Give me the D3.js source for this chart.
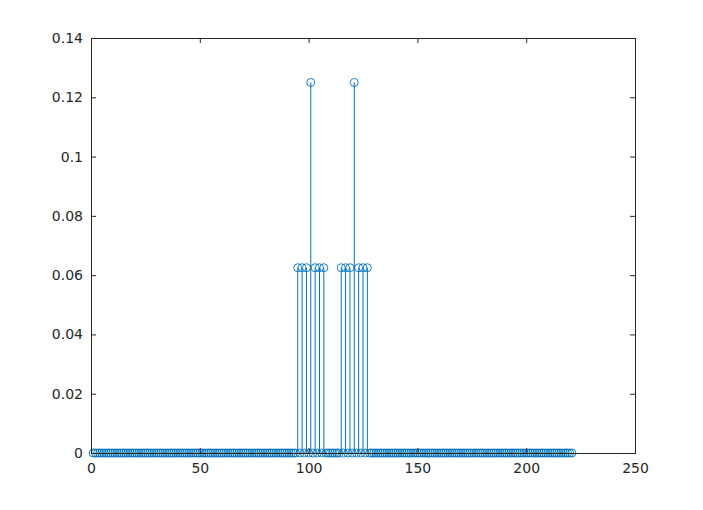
<!DOCTYPE html>
<html>
<head>
<meta charset="utf-8">
<script src="https://cdn.jsdelivr.net/npm/d3@7"></script>
<style>
  body { margin: 0; background: #fff; }
  svg text { font-family: "DejaVu Sans", sans-serif; font-size: 14px; fill: #262626; }
</style>
</head>
<body>
<div id="chart"></div>
<script>
// stem values for sample index 1..221
const values = [
  0,0,0,0,0,0,0,0,0,0,
  0,0,0,0,0,0,0,0,0,0,
  0,0,0,0,0,0,0,0,0,0,
  0,0,0,0,0,0,0,0,0,0,
  0,0,0,0,0,0,0,0,0,0,
  0,0,0,0,0,0,0,0,0,0,
  0,0,0,0,0,0,0,0,0,0,
  0,0,0,0,0,0,0,0,0,0,
  0,0,0,0,0,0,0,0,0,0,
  0,0,0,0,0.0625,0,0.0625,0,0.0625,0,
  0.125,0,0.0625,0,0.0625,0,0.0625,0,0,0,
  0,0,0,0,0.0625,0,0.0625,0,0.0625,0,
  0.125,0,0.0625,0,0.0625,0,0.0625,0,0,0,
  0,0,0,0,0,0,0,0,0,0,
  0,0,0,0,0,0,0,0,0,0,
  0,0,0,0,0,0,0,0,0,0,
  0,0,0,0,0,0,0,0,0,0,
  0,0,0,0,0,0,0,0,0,0,
  0,0,0,0,0,0,0,0,0,0,
  0,0,0,0,0,0,0,0,0,0,
  0,0,0,0,0,0,0,0,0,0,
  0,0,0,0,0,0,0,0,0,0,
  0
];
const xTicks = [0, 50, 100, 150, 200, 250];
const yTicks = [0, 0.02, 0.04, 0.06, 0.08, 0.1, 0.12, 0.14];

const data = values.map((v, i) => ({ x: i + 1, y: v }));

const W = 703, H = 510;
const margin = { top: 38, right: 68, bottom: 57, left: 91 };
const width = W - margin.left - margin.right;
const height = H - margin.top - margin.bottom;
const color = "#0072BD";

const svg = d3.select("#chart").append("svg")
  .attr("width", W)
  .attr("height", H);

const g = svg.append("g").attr("transform", `translate(${margin.left},${margin.top})`);

const x = d3.scaleLinear().domain([0, 250]).range([0, width]);
const y = d3.scaleLinear().domain([0, 0.14]).range([height, 0]);

// stems
g.selectAll("line.stem")
  .data(data)
  .enter()
  .append("line")
  .attr("class", "stem")
  .attr("x1", d => x(d.x))
  .attr("x2", d => x(d.x))
  .attr("y1", y(0))
  .attr("y2", d => y(d.y))
  .attr("stroke", color)
  .attr("stroke-width", 1);

// markers
g.selectAll("circle")
  .data(data)
  .enter()
  .append("circle")
  .attr("cx", d => x(d.x))
  .attr("cy", d => y(d.y))
  .attr("r", 4)
  .attr("fill", "none")
  .attr("stroke", color)
  .attr("stroke-width", 0.9);

// axes
const tickLen = 5;
g.append("g")
  .attr("transform", `translate(0,${height})`)
  .call(d3.axisBottom(x).tickValues(xTicks).tickSizeInner(-tickLen).tickSizeOuter(0).tickPadding(10).tickFormat(d3.format("d")));
g.append("g")
  .call(d3.axisTop(x).tickValues(xTicks).tickSizeInner(-tickLen).tickSizeOuter(0).tickFormat(""));
g.append("g")
  .call(d3.axisLeft(y).tickValues(yTicks).tickSizeInner(-tickLen).tickSizeOuter(0).tickPadding(8).tickFormat(d => d === 0 ? "0" : d3.format(".2~f")(d)));
g.append("g")
  .attr("transform", `translate(${width},0)`)
  .call(d3.axisRight(y).tickValues(yTicks).tickSizeInner(-tickLen).tickSizeOuter(0).tickFormat(""));

g.selectAll(".domain").remove();
g.selectAll(".tick line").attr("stroke", "#262626");

// box
g.append("rect")
  .attr("width", width)
  .attr("height", height)
  .attr("fill", "none")
  .attr("stroke", "#262626")
  .attr("stroke-width", 1)
  .attr("shape-rendering", "crispEdges");

g.selectAll(".tick text").style("font-size", "14px").attr("fill", "#262626");
</script>
</body>
</html>
